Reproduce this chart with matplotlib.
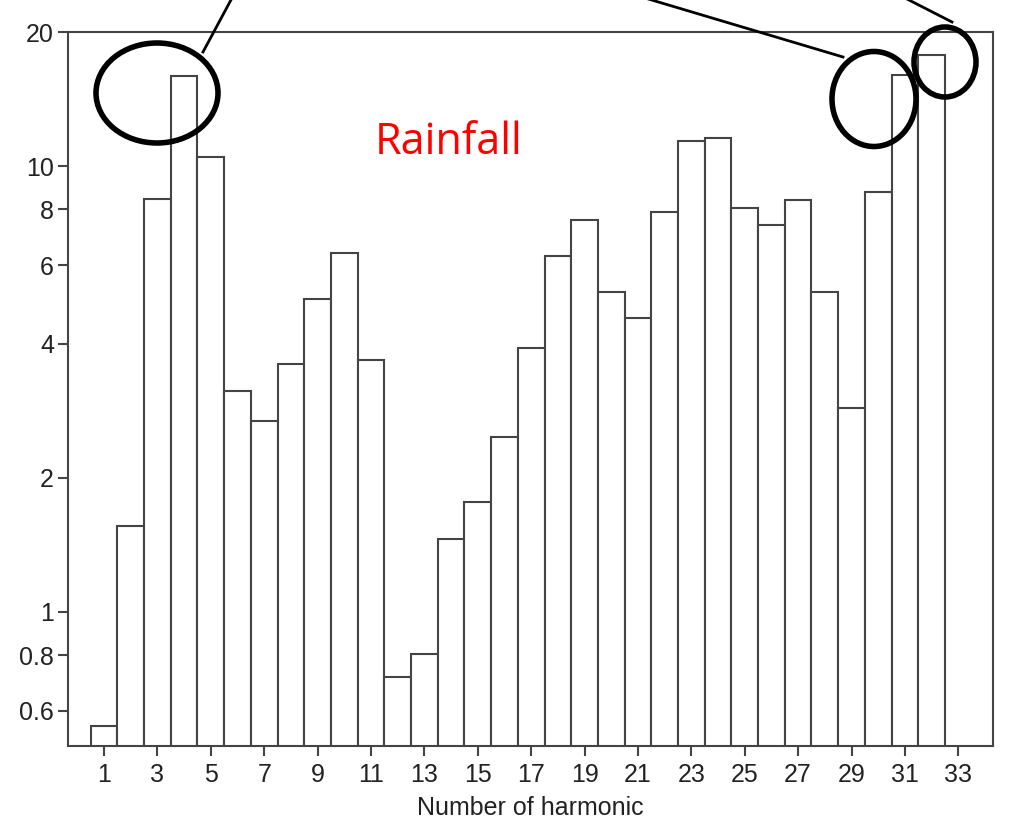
import matplotlib.pyplot as plt
from matplotlib.patches import Ellipse
from matplotlib.lines import Line2D
from matplotlib.ticker import FixedLocator, NullLocator

# Power per harmonic
harmonics = list(range(1, 33))
power = [0.545, 1.55, 8.45, 15.9, 10.45, 3.12, 2.67, 3.59, 5.03, 6.36,
         3.67, 0.705, 0.795, 1.45, 1.75, 2.46, 3.9, 6.28, 7.56, 5.2,
         4.55, 7.9, 11.35, 11.55, 8.05, 7.35, 8.4, 5.2, 2.85, 8.72,
         16.0, 17.75]

xticks = list(range(1, 34, 2))
yticks = [0.6, 0.8, 1, 2, 4, 6, 8, 10, 20]
ytick_labels = ['0.6', '0.8', '1', '2', '4', '6', '8', '10', '20']

plt.rcParams['font.family'] = ['Liberation Sans', 'DejaVu Sans']
axis_color = '#444444'
text_color = '#222222'

fig = plt.figure(figsize=(10.2, 8.25), dpi=100)
ax = fig.add_axes([68 / 1020, 1 - 746 / 825, (993 - 68) / 1020, (746 - 32) / 825])

ax.bar(harmonics, power, width=1.0, bottom=0.01, color='white',
       edgecolor=axis_color, linewidth=1.5)

ax.set_yscale('log')
ax.set_ylim(0.5, 20)
ax.set_xlim(-0.35, 34.3)

ax.yaxis.set_major_locator(FixedLocator(yticks))
ax.yaxis.set_minor_locator(NullLocator())
ax.set_yticklabels(ytick_labels)
ax.set_xticks(xticks)
ax.set_xticklabels([str(t) for t in xticks])

for s in ax.spines.values():
    s.set_color(axis_color)
    s.set_linewidth(1.5)
ax.tick_params(axis='both', direction='out', length=7, width=1.5,
               color=axis_color, labelsize=18, labelcolor=text_color)
ax.tick_params(axis='x', pad=5)
ax.tick_params(axis='y', pad=3)
ax.set_xlabel('Number of harmonic', fontsize=18, color=text_color, labelpad=7)

ax.text(0.412, 0.845, 'Rainfall', transform=ax.transAxes, color='red',
        fontsize=31, family=['Open Sans', 'DejaVu Sans'], ha='center', va='center')

# hand-drawn circles and pointer lines (figure pixel coordinates)
W, H = 1020, 825
circles = [(157, 93, 122, 100), (874, 99, 84, 95), (945, 62, 62, 70)]
for cx, cy, w, h in circles:
    fig.add_artist(Ellipse((cx / W, 1 - cy / H), w / W, h / H,
                           transform=fig.transFigure, fill=False,
                           edgecolor='black', linewidth=4, zorder=10))

pointers = [((203, 52), (232, -2)), ((843, 57), (645, -2)), ((952, 22), (905, -2))]
for (x0, y0), (x1, y1) in pointers:
    fig.add_artist(Line2D([x0 / W, x1 / W], [1 - y0 / H, 1 - y1 / H],
                          transform=fig.transFigure, color='black',
                          linewidth=2, zorder=10))

fig.savefig('out.png', dpi=100)
